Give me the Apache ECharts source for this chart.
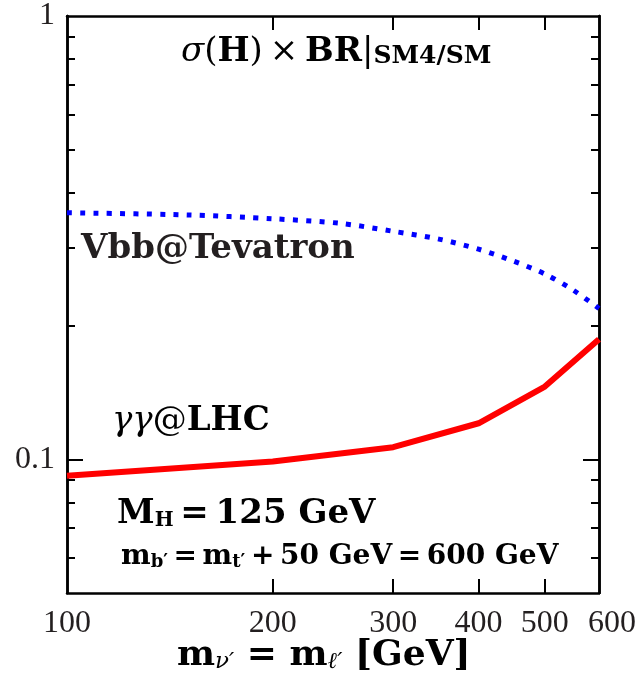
<!DOCTYPE html>
<html>
<head>
<meta charset="utf-8">
<script src="https://cdn.jsdelivr.net/npm/echarts@6/dist/echarts.min.js"></script>
<style>
html,body{margin:0;padding:0;background:#fff;}
#chart{width:642px;height:675px;}
</style>
</head>
<body>
<div id="chart"></div>
<script>
// ---- data ----
const vbbX = [100, 150, 200, 250, 300, 350, 400, 450, 500, 550, 600];
const vbbTevatron = [0.360, 0.356, 0.349, 0.341, 0.327, 0.314, 0.298, 0.280, 0.262, 0.241, 0.219];
const lhcX = [100, 200, 300, 400, 500, 600];
const ggLHC = [0.0919, 0.0990, 0.1066, 0.1207, 0.1460, 0.1866];
// ---- axis ticks / labels ----
const xTickLabels = [100, 200, 300, 400, 500, 600];
const xTickMarks = [200, 300, 400, 500];
const yTickLabels = [0.1, 1];
const yMajorTicks = [0.1];
const yMinorTicks = [0.06, 0.07, 0.08, 0.09, 0.2, 0.3, 0.4, 0.5, 0.6, 0.7, 0.8, 0.9];

const X_MIN = 100, X_MAX = 600, Y_MIN = 0.05, Y_MAX = 1;
const TXT = '#231f20';
const SERIF = 'DejaVu Serif';
const TICKF = 'Liberation Serif';
const lineStyleAxis = { color: '#000', width: 2.5 };

function xAxisDef(pos, showLabel) {
  return {
    type: 'log', min: X_MIN, max: X_MAX, position: pos, gridIndex: 0,
    axisLine: { show: true, lineStyle: lineStyleAxis },
    axisTick: { show: true, inside: true, length: 14, customValues: xTickMarks, lineStyle: { color: '#000', width: 2 } },
    axisLabel: {
      show: showLabel, customValues: xTickLabels, fontFamily: TICKF, fontSize: 32, color: TXT, margin: 15,
      formatter: v => (Math.round(v) === X_MAX ? '{p|' + Math.round(v) + '}' : String(Math.round(v))),
      rich: { p: { fontFamily: TICKF, fontSize: 32, color: TXT, padding: [0, 0, 0, 26] } }
    },
    splitLine: { show: false }, minorTick: { show: false }
  };
}
function yAxisDef(pos, ticks, len, labels) {
  return {
    type: 'log', min: Y_MIN, max: Y_MAX, position: pos, gridIndex: 0,
    axisLine: { show: true, lineStyle: lineStyleAxis },
    axisTick: { show: true, inside: true, length: len, customValues: ticks, lineStyle: { color: '#000', width: 2 } },
    axisLabel: labels ? {
      show: true, customValues: labels, fontFamily: TICKF, fontSize: 32, color: TXT, margin: 12,
      formatter: v => (Math.abs(v - 1) < 1e-9 ? '1' : String(+v.toPrecision(3)))
    } : { show: false },
    splitLine: { show: false }, minorTick: { show: false }
  };
}

const chart = echarts.init(document.getElementById('chart'), null, { renderer: 'canvas' });
const mainRich = (size) => ({ fontFamily: SERIF, fontWeight: 'bold', fontSize: size, color: TXT, lineHeight: Math.round(size * 1.3), verticalAlign: 'bottom' });
const subRich = (size, italic) => ({ fontFamily: SERIF, fontWeight: italic ? 'normal' : 'bold', fontStyle: italic ? 'italic' : 'normal', fontSize: size, color: TXT, lineHeight: Math.round(size * 1.1), verticalAlign: 'bottom' });

chart.setOption({
  animation: false,
  backgroundColor: '#fff',
  grid: { left: 67, top: 16, width: 532, height: 577, containLabel: false },
  xAxis: [xAxisDef('bottom', true), xAxisDef('top', false)],
  yAxis: [
    yAxisDef('left', yMajorTicks, 16, yTickLabels),
    yAxisDef('left', yMinorTicks, 8, null),
    yAxisDef('right', yMajorTicks, 16, null),
    yAxisDef('right', yMinorTicks, 8, null)
  ],
  series: [
    {
      name: 'Vbb@Tevatron', type: 'line', xAxisIndex: 0, yAxisIndex: 0,
      data: vbbX.map((x, i) => [x, vbbTevatron[i]]),
      showSymbol: false, smooth: 0.3,
      lineStyle: { color: '#0000ff', width: 5, type: [5, 8.3], cap: 'butt' }
    },
    {
      name: 'γγ@LHC', type: 'line', xAxisIndex: 0, yAxisIndex: 0,
      data: lhcX.map((x, i) => [x, ggLHC[i]]),
      showSymbol: false,
      lineStyle: { color: '#ff0000', width: 6 }
    }
  ],
  graphic: [
    {
      type: 'text', left: 181, top: 35, z: 10,
      style: {
        text: '{i|σ}{r|(}{b|H}{r|)\u2009×\u2009}{b|BR}{r||}{s|SM4/SM}',
        rich: {
          i: Object.assign(mainRich(34), { fontWeight: 'normal', fontStyle: 'italic' }),
          r: Object.assign(mainRich(34), { fontWeight: 'normal' }),
          b: mainRich(34),
          s: subRich(25, false)
        }
      }
    },
    {
      type: 'text', left: 81, top: 232, z: 10,
      style: { text: 'Vbb@Tevatron', fontFamily: SERIF, fontWeight: 'bold', fontSize: 34, fill: TXT }
    },
    {
      type: 'text', left: 112, top: 404, z: 10,
      style: {
        text: '{g|γγ}{r|@}{b|LHC}',
        rich: {
          g: Object.assign(mainRich(34), { fontWeight: 'normal', fontStyle: 'italic' }),
          r: Object.assign(mainRich(34), { fontWeight: 'normal' }),
          b: mainRich(34)
        }
      }
    },
    {
      type: 'text', left: 117, top: 497, z: 10,
      style: {
        text: '{b|M}{s|H}{b|\u2009=\u2009125 GeV}',
        rich: { b: mainRich(34), s: subRich(20, false) }
      }
    },
    {
      type: 'text', left: 121, top: 543, z: 10,
      style: {
        text: '{b|m}{s|b′}{b|\u2009=\u2009m}{s|t′}{b|\u2009+\u200950 GeV\u2009=\u2009600 GeV}',
        rich: { b: mainRich(28), s: subRich(18, false) }
      }
    },
    {
      type: 'text', left: 177, top: 638, z: 10,
      style: {
        text: '{b|m}{s|ν′}{b| = m}{s|ℓ′}{b| [GeV]}',
        rich: { b: mainRich(36), s: subRich(23, true) }
      }
    }
  ]
});
</script>
</body>
</html>
